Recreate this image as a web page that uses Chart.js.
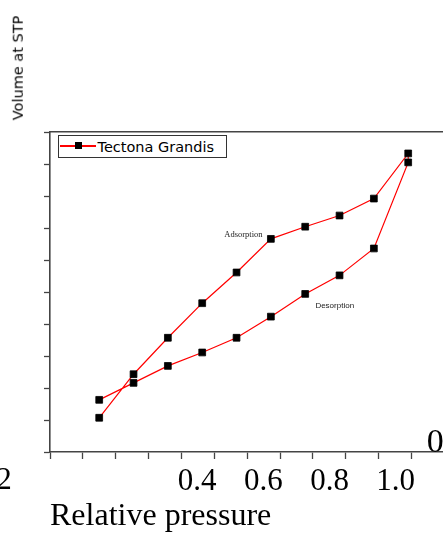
<!DOCTYPE html>
<html>
  <head>
    <meta charset="utf-8">
    <title>Tectona Grandis - volume vs relative pressure</title>
    <script src="https://cdn.jsdelivr.net/npm/chart.js"></script>
    <style>
      html, body { margin: 0; padding: 0; overflow: hidden; background: #fff; }
      #wrap { position: relative; width: 450px; height: 534px; }
      #yTitle {
        position: absolute; left: 18px; top: 68px;
        transform: translate(-50%, -50%) rotate(-90deg);
        font: 14.5px "DejaVu Sans"; line-height: 1; white-space: nowrap; color: #000;
      }
      #legend {
        position: absolute; left: 58px; top: 135px; width: 169px; height: 23px;
        box-sizing: border-box; border: 1.5px solid #333; background: #fff;
      }
      #legend .ln { position: absolute; left: 1px; top: 8.5px; width: 36px; height: 2px; background: #ff0000; }
      #legend .mk { position: absolute; left: 16px; top: 6px; width: 7px; height: 7px; background: #000; }
      #legend .tx {
        position: absolute; left: 38.5px; top: 4px;
        font: 14.5px "DejaVu Sans"; line-height: 1; white-space: nowrap; color: #000;
      }
    </style>
  </head>
  <body>
    <div id="wrap">
      <canvas id="myChart" width="450" height="534"></canvas>
      <div id="yTitle"></div>
      <div id="legend"><span class="ln"></span><span class="mk"></span><span class="tx"></span></div>
    </div>

<script>
// dati (volume in unita' arbitrarie, l'asse y non ha etichette)
const seriesName = "Tectona Grandis";
const yAxisTitle = "Volume at STP";
const xAxisTitle = "Relative pressure";

const pressure   = [0.1, 0.2, 0.3, 0.4, 0.5, 0.6, 0.7, 0.8, 0.9, 1.0];
const adsorption = [10.7, 24.3, 35.7, 46.5, 56.1, 66.6, 70.4, 73.9, 79.2, 93.3];
const desorption = [16.3, 21.6, 26.9, 31.1, 35.7, 42.3, 49.4, 55.2, 63.6, 90.5];

// etichette dell'asse x
const xLabelValues = [0.4, 0.6, 0.8, 1.0];
const xLabelText   = ["0.4", "0.6", "0.8", "1.0"];

// scritte sul grafico (posizione in unita' dei dati)
const noteText = ["Adsorption", "Desorption", "0.2", "0"];
const noteX    = [0.52, 0.786, -0.211, 1.079];
const noteY    = [67.8, 45.6, -9.0, 2.7];

const noteFonts  = ['8.5px "Liberation Serif"', '8px "Liberation Sans"', '31px "Liberation Serif"', '34px "Liberation Serif"'];
const noteColors = ["#222", "#222", "#000", "#000"];

document.getElementById("yTitle").textContent = yAxisTitle;
document.querySelector("#legend .tx").textContent = seriesName;

// andata (adsorbimento) e ritorno (desorbimento) in un'unica linea
const points = pressure.map((p, i) => ({ x: p, y: adsorption[i] }))
  .concat(pressure.map((p, i) => ({ x: p, y: desorption[i] })).reverse());

const axisColor = "#444";

const notesPlugin = {
  id: "notes",
  afterDraw(chart) {
    const ctx = chart.ctx;
    const xs = chart.scales.x, ys = chart.scales.y;
    ctx.save();
    ctx.textAlign = "center";
    ctx.textBaseline = "middle";
    for (let i = 0; i < noteText.length; i++) {
      ctx.font = noteFonts[i];
      ctx.fillStyle = noteColors[i];
      ctx.fillText(noteText[i], xs.getPixelForValue(noteX[i]), ys.getPixelForValue(noteY[i]));
    }
    ctx.restore();
  }
};

const ctx = document.getElementById("myChart").getContext("2d");
const chart = new Chart(ctx, {
  type: "line",
  data: {
    datasets: [{
      label: seriesName,
      data: points,
      xAxisID: "x",
      yAxisID: "y",
      borderColor: "#ff0000",
      borderWidth: 1.2,
      tension: 0,
      fill: false,
      pointStyle: "rect",
      pointRadius: 4.8,
      pointBorderWidth: 0.8,
      pointBackgroundColor: "#000",
      pointBorderColor: "#000"
    }]
  },
  options: {
    responsive: false,
    animation: false,
    events: [],
    layout: { padding: { top: 132, left: 0, right: 4.5, bottom: 0 } },
    plugins: {
      legend: { display: false },
      tooltip: { enabled: false }
    },
    scales: {
      x: {
        type: "linear",
        position: "bottom",
        min: -0.0433,
        max: 1.1054,
        ticks: { display: false, count: 13 },
        grid: { drawOnChartArea: false, color: axisColor, tickLength: 7, tickWidth: 1.3 },
        border: { color: axisColor, width: 1.6 },
        afterFit(scale) { scale.height = 8; }
      },
      x2: {
        type: "linear",
        position: "bottom",
        weight: 1,
        min: -0.0443,
        max: 1.147,
        afterBuildTicks(scale) {
          scale.ticks = xLabelValues.map(v => ({ value: v }));
        },
        ticks: {
          autoSkip: false,
          maxRotation: 0,
          minRotation: 0,
          padding: 3,
          color: "#000",
          font: { family: "Liberation Serif", size: 31 },
          callback: (v) => xLabelText[xLabelValues.indexOf(v)]
        },
        grid: { display: false, drawTicks: false },
        border: { display: false },
        title: {
          display: true,
          text: xAxisTitle,
          align: "start",
          color: "#000",
          font: { family: "Liberation Serif", size: 32, lineHeight: 1 },
          padding: { top: 0, bottom: 1 }
        },
        afterFit(scale) { scale.height = 74; }
      },
      xTop: {
        type: "linear",
        position: "top",
        min: -0.0433,
        max: 1.1054,
        ticks: { display: false },
        grid: { display: false, drawTicks: false },
        border: { color: axisColor, width: 1.6 },
        afterFit(scale) { scale.height = 0; }
      },
      y: {
        type: "linear",
        position: "left",
        min: 0,
        max: 100,
        ticks: { display: false, stepSize: 10 },
        grid: { drawOnChartArea: false, color: axisColor, tickLength: 6, tickWidth: 1.3 },
        border: { color: axisColor, width: 1.6 },
        afterFit(scale) { scale.width = 50; }
      }
    }
  },
  plugins: [notesPlugin]
});
</script>
  </body>
</html>
